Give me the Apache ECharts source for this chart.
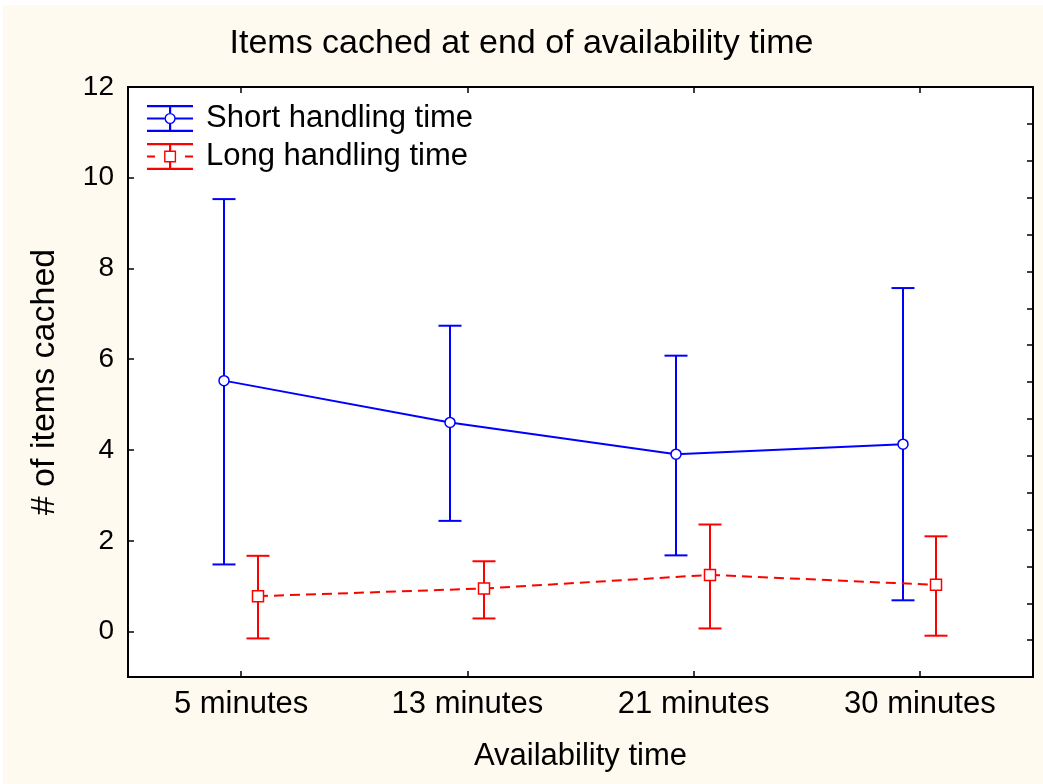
<!DOCTYPE html>
<html>
<head>
<meta charset="utf-8">
<title>Items cached at end of availability time</title>
<script src="https://cdn.jsdelivr.net/npm/echarts@6.0.0/dist/echarts.min.js"></script>
<style>
  html, body { margin: 0; padding: 0; background: #ffffff; }
  #chart {
    position: absolute; left: 0; top: 0; width: 1043px; height: 784px;
    background: #fffaef;
    box-shadow: inset 3px 5px 0 #ffffff;
  }
</style>
</head>
<body>
<div id="chart"></div>
<script>
// Availability-time categories and the mean / interval bounds for each group
const categories = ['5 minutes', '13 minutes', '21 minutes', '30 minutes'];

const shortMean = [5.53, 4.61, 3.91, 4.13];
const shortLow  = [1.48, 2.44, 1.68, 0.69];
const shortHigh = [9.53, 6.74, 6.08, 7.57];

const longMean = [0.78, 0.95, 1.25, 1.03];
const longLow  = [-0.15, 0.29, 0.07, -0.09];
const longHigh = [1.67, 1.55, 2.36, 2.10];

const yTicks = [0, 2, 4, 6, 8, 10, 12];

const FONT = '"Liberation Sans", Arial, sans-serif';
const BLUE = '#0000ff';
const RED = '#ff0000';

const GRID = { left: 128, right: 10, top: 87, bottom: 107 };
const TICK_LEN = 6;

// --- legend icon paths (error bar glyphs) ---
function rect(x, y, w, h) {
  return `M${x} ${y}L${x + w} ${y}L${x + w} ${y + h}L${x} ${y + h}Z`;
}
function ring(cx, cy, r1, r2) {
  return `M${cx - r1} ${cy}A${r1} ${r1} 0 1 1 ${cx + r1} ${cy}A${r1} ${r1} 0 1 1 ${cx - r1} ${cy}Z` +
         `M${cx - r2} ${cy}A${r2} ${r2} 0 1 0 ${cx + r2} ${cy}A${r2} ${r2} 0 1 0 ${cx - r2} ${cy}Z`;
}
function squareRing(cx, cy, s, t) {
  const h = s / 2, x0 = cx - h, y0 = cy - h;
  const ix0 = x0 + t, iy0 = y0 + t, ix1 = x0 + s - t, iy1 = y0 + s - t;
  return rect(x0, y0, s, s) +
         `M${ix0} ${iy0}L${ix0} ${iy1}L${ix1} ${iy1}L${ix1} ${iy0}Z`;
}
const shortIcon = 'path://' + rect(0, 0, 46, 2.2) + rect(0, 24.8, 46, 2.2) +
  rect(22, 0, 2.2, 8) + rect(22, 19, 2.2, 8) +
  rect(0, 12.4, 17.5, 2.2) + rect(28.5, 12.4, 17.5, 2.2) + ring(23.1, 13.5, 5.6, 4.2);
const longIcon = 'path://' + rect(0, 0, 46, 2.2) + rect(0, 24.8, 46, 2.2) +
  rect(22, 0, 2.2, 7.5) + rect(22, 19.5, 2.2, 7.5) +
  rect(0, 12.4, 8, 2.2) + rect(38, 12.4, 8, 2.2) + squareRing(23.1, 13.5, 12, 1.4);

// --- error-bar series: connecting line, whiskers with caps, and a hollow marker ---
function errorSeries(name, color, mean, low, high, shift, marker, dashed) {
  return {
    type: 'custom',
    name: name,
    xAxisIndex: 0,
    yAxisIndex: 0,
    clip: false,
    z: 3,
    data: mean.map((m, i) => [i, m, low[i], high[i]]),
    renderItem: function (params, api) {
      const i = api.value(0);
      const dx = api.size([1, 0])[0] * shift;
      const p = api.coord([i, api.value(1)]);
      const pTop = api.coord([i, api.value(3)]);
      const pBot = api.coord([i, api.value(2)]);
      const x = Math.round(p[0] + dx);
      const cap = 11.5;
      const children = [];
      if (i < mean.length - 1) {
        const q = api.coord([i + 1, mean[i + 1]]);
        children.push({
          type: 'line',
          shape: { x1: x, y1: p[1], x2: Math.round(q[0] + dx), y2: q[1] },
          style: { stroke: color, lineWidth: 2, lineDash: dashed ? [10, 6] : null }
        });
      }
      const bar = { stroke: color, lineWidth: 2 };
      children.push({ type: 'line', shape: { x1: x, y1: pTop[1], x2: x, y2: pBot[1] }, style: bar });
      children.push({ type: 'line', shape: { x1: x - cap, y1: pTop[1], x2: x + cap, y2: pTop[1] }, style: bar });
      children.push({ type: 'line', shape: { x1: x - cap, y1: pBot[1], x2: x + cap, y2: pBot[1] }, style: bar });
      const mk = { fill: '#ffffff', stroke: color, lineWidth: 1.5 };
      if (marker === 'circle') {
        children.push({ type: 'circle', shape: { cx: x, cy: p[1], r: 5 }, style: mk });
      } else {
        children.push({ type: 'rect', shape: { x: x - 5.5, y: p[1] - 5.5, width: 11, height: 11 }, style: mk });
      }
      return { type: 'group', children: children };
    }
  };
}

const tickStyle = { color: '#000', width: 1.5 };
const noLine = { show: false, onZero: false };

const chart = echarts.init(document.getElementById('chart'), null, { renderer: 'canvas' });

chart.setOption({
  backgroundColor: 'transparent',
  animation: false,
  title: {
    text: 'Items cached at end of availability time',
    left: 'center',
    top: 22,
    textStyle: { fontFamily: FONT, fontSize: 34, fontWeight: 'normal', color: '#000' }
  },
  legend: {
    orient: 'vertical',
    left: 142,
    top: 98,
    itemWidth: 46,
    itemHeight: 27,
    itemGap: 7,
    selectedMode: false,
    z: 6,
    textStyle: { fontFamily: FONT, fontSize: 31, color: '#000', padding: [0, 0, 0, 8] },
    data: [
      { name: 'Short handling time', icon: shortIcon, itemStyle: { color: BLUE, borderWidth: 0 } },
      { name: 'Long handling time', icon: longIcon, itemStyle: { color: RED, borderWidth: 0 } }
    ]
  },
  grid: [
    {
      // plotting frame
      left: GRID.left, right: GRID.right, top: GRID.top, bottom: GRID.bottom,
      show: true, z: 0, backgroundColor: '#ffffff', borderColor: '#000000', borderWidth: 2
    },
    {
      // same frame, carrying the finer tick marks of the right edge
      left: GRID.left, right: GRID.right, top: GRID.top, bottom: GRID.bottom,
      show: false
    }
  ],
  xAxis: [
    {
      type: 'category',
      gridIndex: 0,
      data: categories,
      position: 'bottom',
      boundaryGap: true,
      z: 5,
      name: 'Availability time',
      nameLocation: 'middle',
      nameGap: 64,
      nameTextStyle: { fontFamily: FONT, fontSize: 31, color: '#000' },
      axisLine: noLine,
      axisTick: { show: true, inside: true, alignWithLabel: true, length: TICK_LEN, lineStyle: tickStyle },
      axisLabel: { fontFamily: FONT, fontSize: 31, color: '#000', margin: 12 },
      splitLine: { show: false }
    },
    {
      type: 'category',
      gridIndex: 0,
      data: categories,
      position: 'top',
      boundaryGap: true,
      z: 5,
      axisLine: noLine,
      axisTick: { show: true, inside: true, alignWithLabel: true, length: TICK_LEN, lineStyle: tickStyle },
      axisLabel: { show: false },
      splitLine: { show: false }
    },
    {
      type: 'category',
      gridIndex: 1,
      data: categories,
      show: false
    }
  ],
  yAxis: [
    {
      // value scale with labels 0..12
      type: 'value',
      gridIndex: 0,
      min: -1,
      max: 12,
      z: 5,
      name: '# of items cached',
      nameLocation: 'middle',
      nameGap: 66,
      nameTextStyle: { fontFamily: FONT, fontSize: 34, color: '#000' },
      axisLine: noLine,
      axisTick: { show: false },
      axisLabel: { fontFamily: FONT, fontSize: 28, color: '#000', margin: 14, customValues: yTicks },
      splitLine: { show: false }
    },
    {
      // finer tick marks along the right edge
      type: 'value',
      gridIndex: 1,
      position: 'right',
      inverse: true,
      min: 0,
      max: 16,
      interval: 1,
      z: 5,
      axisLine: noLine,
      axisTick: { show: true, inside: true, length: TICK_LEN, lineStyle: tickStyle },
      axisLabel: { show: false },
      splitLine: { show: false }
    }
  ],
  series: [
    errorSeries('Short handling time', BLUE, shortMean, shortLow, shortHigh, -0.076, 'circle', false),
    errorSeries('Long handling time', RED, longMean, longLow, longHigh, 0.073, 'square', true)
  ]
});

// Inward tick marks on the left edge at each labelled value, placed through the y scale
chart.setOption({
  graphic: yTicks.map(v => {
    const y = Math.round(chart.convertToPixel({ yAxisIndex: 0 }, v));
    return {
      type: 'line',
      z: 10,
      silent: true,
      shape: { x1: GRID.left, y1: y, x2: GRID.left + TICK_LEN, y2: y },
      style: { stroke: '#000', lineWidth: 1.5 }
    };
  })
});
</script>
</body>
</html>
